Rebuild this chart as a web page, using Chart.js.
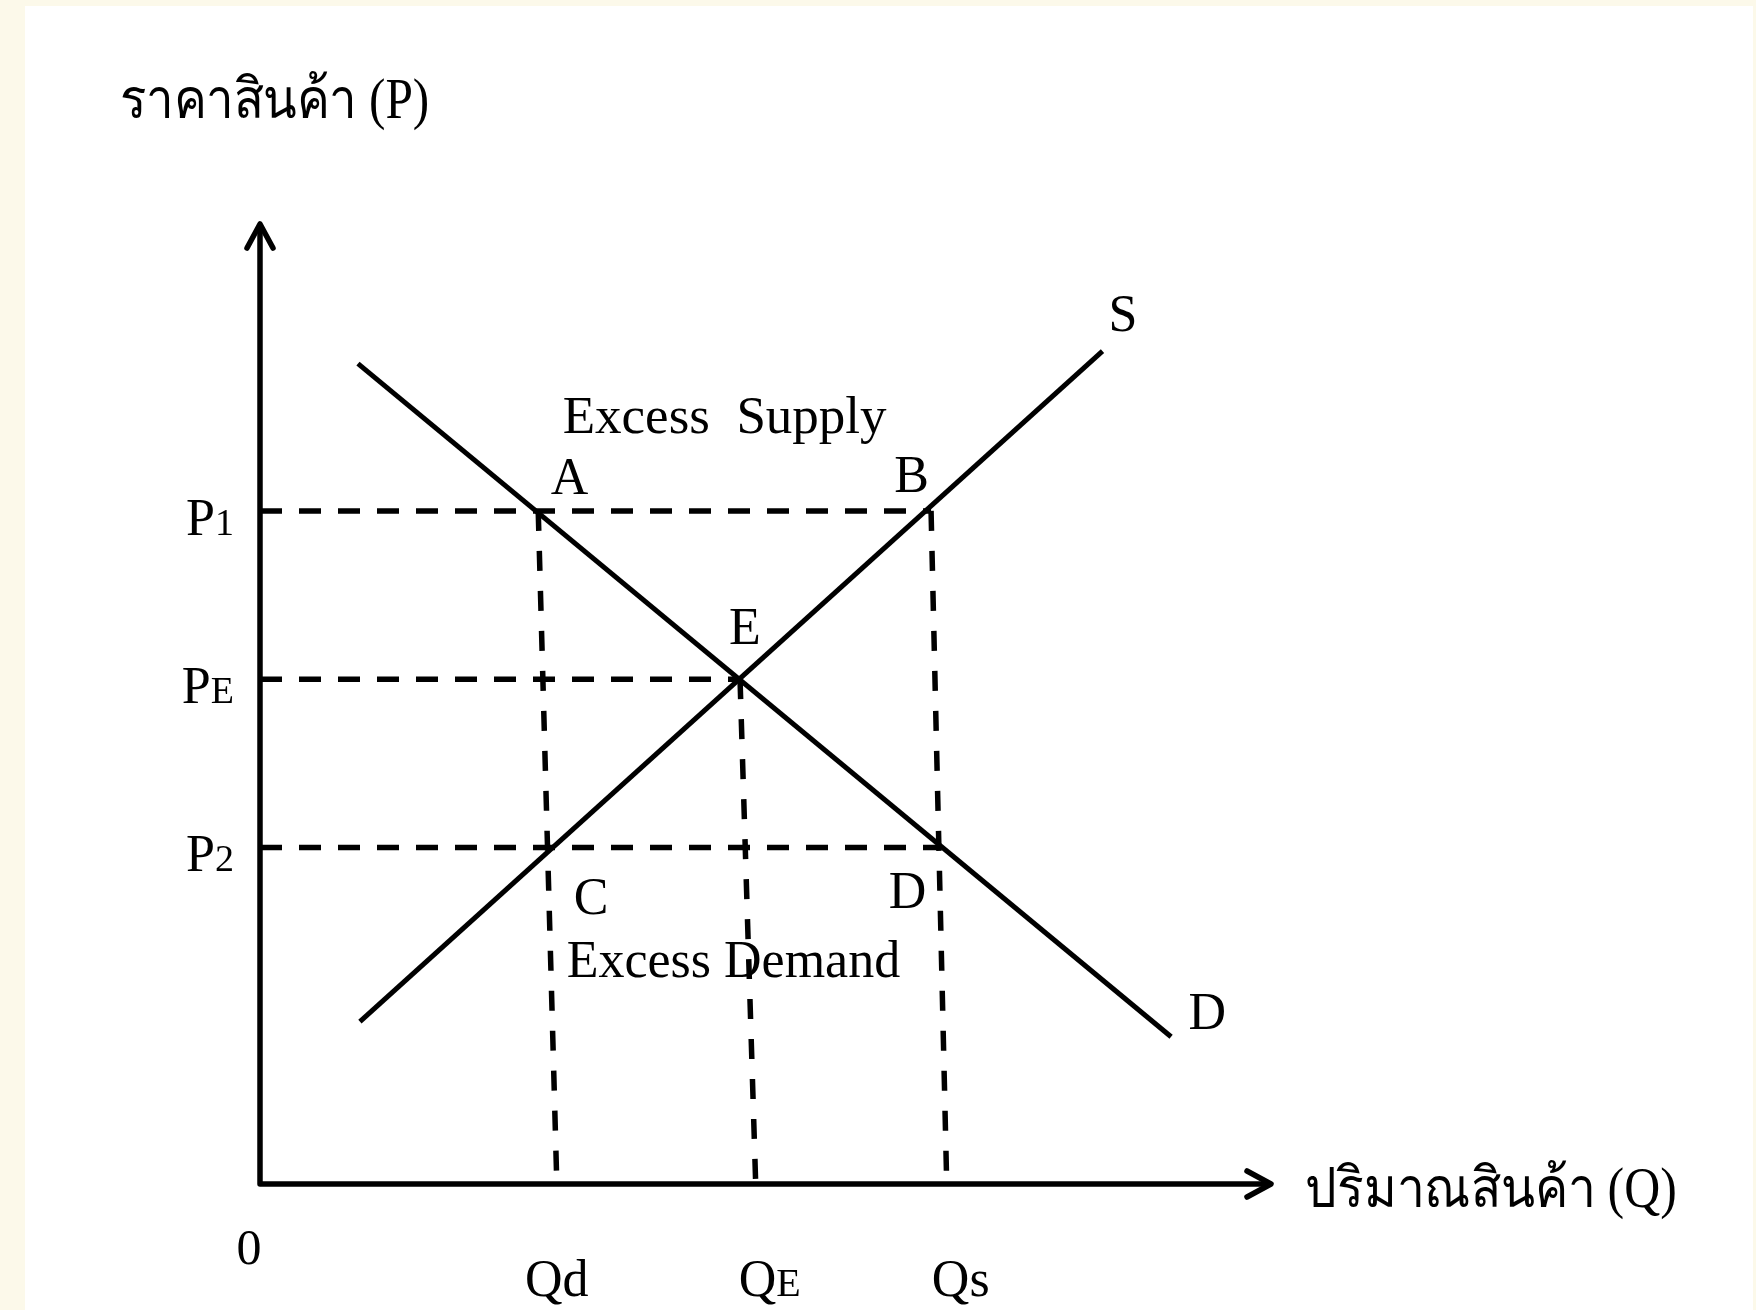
<!DOCTYPE html>
<html>
<head>
<meta charset="utf-8">
<script src="https://cdn.jsdelivr.net/npm/chart.js@4.4.1/dist/chart.umd.min.js"></script>
<style>
  html, body { margin: 0; padding: 0; background: #fcf9ea; }
  #wrap { position: relative; width: 1756px; height: 1310px; }
</style>
</head>
<body>
<div id="wrap"><canvas id="myChart" width="1756" height="1310"></canvas></div>
<script>
const priceTitle = 'ราคาสินค้า (P)';
const quantityTitle = 'ปริมาณสินค้า (Q)';

// price levels on the P axis
const priceNames = ['P1', 'PE', 'P2'];
const priceLevels = [8, 6, 4];
// where each price line stops (B, E, D)
const priceLineEnds = [6.85, 4.9, 6.95];

// quantities on the Q axis (the drawing is a little skewed, top and bottom differ)
const quantityNames = ['Qd', 'QE', 'Qs'];
const quantityTop = [2.84, 4.9, 6.85];
const quantityTopP = [8, 6, 8];
const quantityBottom = [3.03, 5.06, 7.01];

// demand and supply curves
const demandQ = [1.0, 9.3];
const demandP = [9.75, 1.75];
const supplyQ = [1.02, 8.6];
const supplyP = [1.93, 9.9];

const FONT = "'Liberation Serif', 'Times New Roman', serif";

function pts(xs, ys) {
  return xs.map((x, i) => ({ x: x, y: ys[i] }));
}

function solid(data) {
  return { data: data, showLine: true, borderColor: '#000', borderWidth: 5,
           pointRadius: 0, tension: 0, fill: false };
}

function dashed(data, dash) {
  return { data: data, showLine: true, borderColor: '#000', borderWidth: 5.5,
           borderDash: dash, pointRadius: 0, tension: 0, fill: false, borderCapStyle: 'butt' };
}

const datasets = [
  solid(pts(demandQ, demandP)),
  solid(pts(supplyQ, supplyP)),
];
priceLevels.forEach((p, i) => {
  datasets.push(dashed([{ x: 0, y: p }, { x: priceLineEnds[i], y: p }], [22, 17]));
});
quantityTop.forEach((q, i) => {
  datasets.push(dashed([{ x: q, y: quantityTopP[i] }, { x: quantityBottom[i], y: 0 }], [20, 20]));
});

// letter with a smaller letter sitting on its baseline
function drawSub(ctx, main, sub, x, y, align, size, subSize) {
  ctx.font = size + 'px ' + FONT;
  const w1 = ctx.measureText(main).width;
  ctx.font = subSize + 'px ' + FONT;
  const w2 = ctx.measureText(sub).width;
  let left = x;
  if (align === 'right') left = x - w1 - w2;
  if (align === 'center') left = x - (w1 + w2) / 2;
  ctx.textAlign = 'left';
  ctx.textBaseline = 'alphabetic';
  ctx.font = size + 'px ' + FONT;
  ctx.fillText(main, left, y);
  ctx.font = subSize + 'px ' + FONT;
  ctx.fillText(sub, left + w1, y);
}

// thai titles come out wider than the original font, squeeze them a bit
function drawNarrow(ctx, text, x, y, squeeze) {
  ctx.save();
  ctx.translate(x, y);
  ctx.scale(squeeze, 1);
  ctx.fillText(text, 0, 0);
  ctx.restore();
}

const diagramPlugin = {
  id: 'diagram',
  beforeDraw(chart) {
    const ctx = chart.ctx;
    ctx.save();
    ctx.fillStyle = '#fcf9ea';
    ctx.fillRect(0, 0, chart.width, chart.height);
    ctx.fillStyle = '#ffffff';
    ctx.fillRect(25, 6, chart.width - 28, chart.height - 6);
    ctx.restore();
  },
  afterDraw(chart) {
    const ctx = chart.ctx;
    const xs = chart.scales.x, ys = chart.scales.y;
    const ox = xs.getPixelForValue(0), oy = ys.getPixelForValue(0);
    const top = ys.getPixelForValue(ys.max), right = xs.getPixelForValue(xs.max);
    ctx.save();
    ctx.strokeStyle = '#000';
    ctx.fillStyle = '#000';
    ctx.lineWidth = 5.5;
    ctx.lineCap = 'round';
    ctx.lineJoin = 'round';
    // axes
    ctx.beginPath();
    ctx.moveTo(ox, oy); ctx.lineTo(ox, top + 2);
    ctx.moveTo(ox, oy); ctx.lineTo(right - 2, oy);
    ctx.stroke();
    // arrow heads
    ctx.beginPath();
    ctx.moveTo(ox - 13, top + 24); ctx.lineTo(ox, top); ctx.lineTo(ox + 13, top + 24);
    ctx.moveTo(right - 24, oy - 13); ctx.lineTo(right, oy); ctx.lineTo(right - 24, oy + 13);
    ctx.stroke();

    // axis titles
    ctx.textBaseline = 'alphabetic';
    ctx.textAlign = 'left';
    ctx.font = '56px ' + FONT;
    drawNarrow(ctx, priceTitle, 120, 118, 0.88);
    drawNarrow(ctx, quantityTitle, 1305, 1207, 0.89);

    // origin
    ctx.font = '50px ' + FONT;
    ctx.textAlign = 'center';
    ctx.fillText('0', ox - 11, 1264);

    // price tick labels
    priceNames.forEach((name, i) => {
      const y = ys.getPixelForValue(priceLevels[i]);
      drawSub(ctx, name[0], name.slice(1), 234, y + 24, 'right', 52, 38);
    });
    // quantity tick labels
    quantityNames.forEach((name, i) => {
      const x = xs.getPixelForValue(quantityBottom[i]);
      const sub = name.slice(1);
      const subSize = sub === 'E' ? 40 : 52;
      drawSub(ctx, name[0], sub, x + (sub === 'd' ? 0 : 14), 1296, 'center', 52, subSize);
    });

    // point letters and notes, placed in data units
    const notes = [
      { t: 'A', q: 3.16, p: 8.39 },
      { t: 'B', q: 6.65, p: 8.41 },
      { t: 'E', q: 4.95, p: 6.61 },
      { t: 'C', q: 3.38, p: 3.40 },
      { t: 'D', q: 6.61, p: 3.47 },
      { t: 'S', q: 8.81, p: 10.33 },
      { t: 'D', q: 9.67, p: 2.03 },
    ];
    ctx.font = '52px ' + FONT;
    ctx.textAlign = 'center';
    ctx.textBaseline = 'middle';
    notes.forEach(n => ctx.fillText(n.t, xs.getPixelForValue(n.q), ys.getPixelForValue(n.p) + 2));
    ctx.textAlign = 'left';
    ctx.font = '53px ' + FONT;
    ctx.fillText('Excess  Supply', xs.getPixelForValue(3.09), ys.getPixelForValue(9.12) + 2);
    ctx.font = '52px ' + FONT;
    ctx.fillText('Excess Demand', xs.getPixelForValue(3.13), ys.getPixelForValue(2.65) + 2);
    ctx.restore();
  }
};

const config = {
  type: 'scatter',
  data: { datasets: datasets },
  options: {
    responsive: false,
    devicePixelRatio: 1,
    animation: false,
    layout: { padding: { left: 260, right: 485, top: 224, bottom: 126 } },
    plugins: { legend: { display: false }, tooltip: { enabled: false } },
    scales: {
      x: { type: 'linear', min: 0, max: 10.32, display: false },
      y: { type: 'linear', min: 0, max: 11.41, display: false }
    }
  },
  plugins: [diagramPlugin]
};

const myChart = new Chart(document.getElementById('myChart'), config);
</script>
</body>
</html>
